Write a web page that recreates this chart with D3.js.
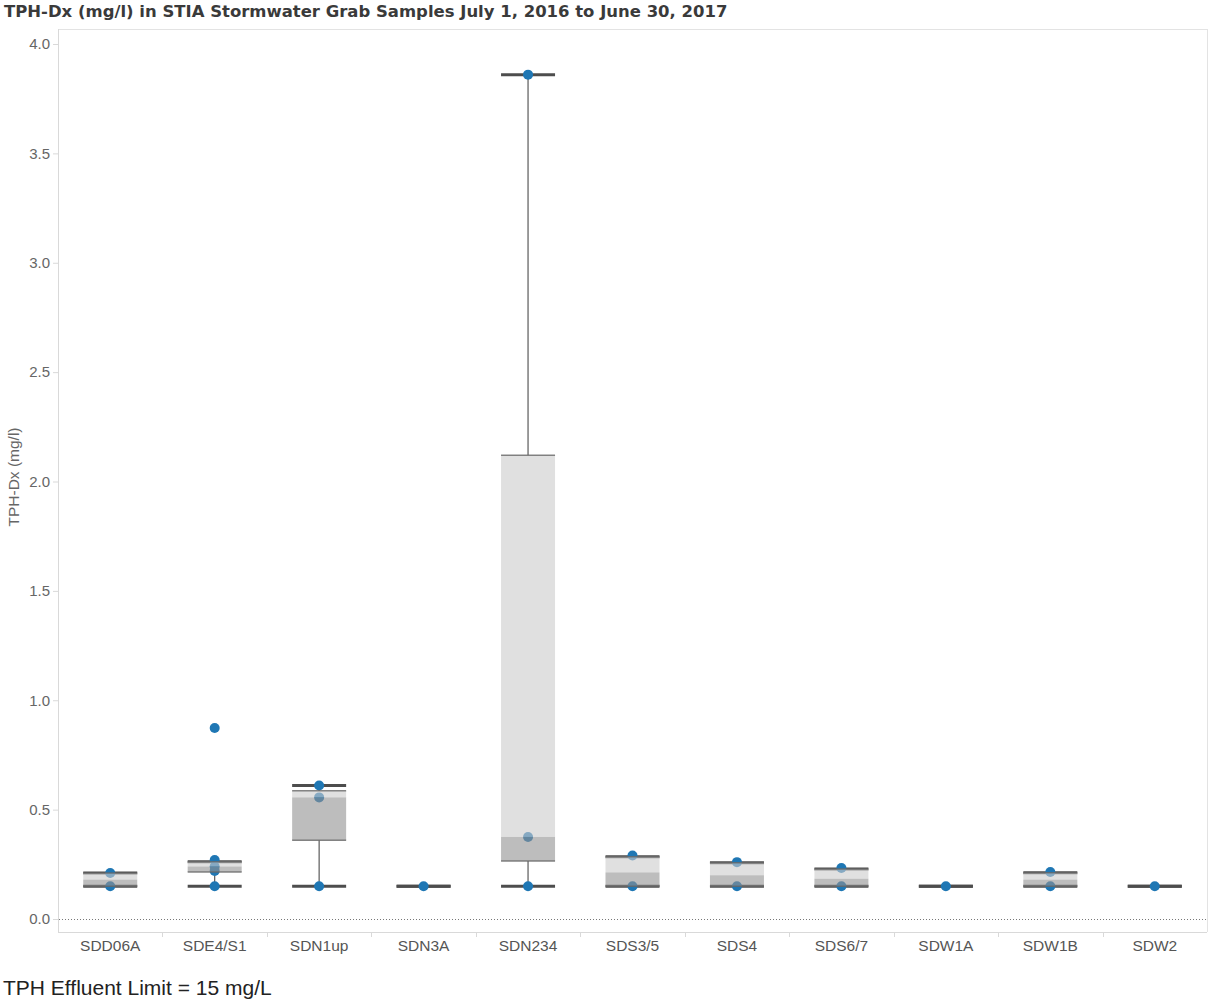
<!DOCTYPE html>
<html>
<head>
<meta charset="utf-8">
<script src="https://cdn.jsdelivr.net/npm/d3@7"></script>
<style>
  html, body { margin: 0; padding: 0; background: #fff; }
  svg { display: block; }
</style>
</head>
<body>
<svg id="chart" width="1208" height="999"></svg>
<script>
// ---- data ----
const sites      = ["SDD06A","SDE4/S1","SDN1up","SDN3A","SDN234","SDS3/5","SDS4","SDS6/7","SDW1A","SDW1B","SDW2"];
const whiskerLow = [0.15, 0.15, 0.15, 0.15, 0.15, 0.15, 0.15, 0.15, 0.15, 0.15, 0.15];
const q1         = [0.15, 0.215, 0.36, 0.15, 0.265, 0.15, 0.15, 0.15, 0.15, 0.15, 0.15];
const median     = [0.18, 0.24, 0.556, 0.15, 0.375, 0.213, 0.20, 0.184, 0.15, 0.18, 0.15];
const q3         = [0.21, 0.262, 0.586, 0.15, 2.12, 0.285, 0.257, 0.229, 0.15, 0.211, 0.15];
const whiskerHigh= [0.21, 0.262, 0.61, 0.15, 3.86, 0.285, 0.257, 0.229, 0.15, 0.211, 0.15];
const samples    = [
  [0.15, 0.21],
  [0.15, 0.22, 0.24, 0.27, 0.873],
  [0.15, 0.556, 0.61],
  [0.15],
  [0.15, 0.375, 3.86],
  [0.15, 0.29],
  [0.15, 0.26],
  [0.15, 0.233],
  [0.15],
  [0.15, 0.215],
  [0.15]
];
const yTicks = [0, 0.5, 1.0, 1.5, 2.0, 2.5, 3.0, 3.5, 4.0];
const titleText  = "TPH-Dx (mg/l) in STIA Stormwater Grab Samples July 1, 2016 to June 30, 2017";
const yTitle     = "TPH-Dx (mg/l)";
const footerText = "TPH Effluent Limit = 15 mg/L";

// ---- layout ----
const svg = d3.select("#chart");
const pLeft = 58, pRight = 1207, pTop = 29, pBottom = 932;

const y = d3.scaleLinear().domain([0, 4]).range([919, 44]);
const x = d3.scaleBand().domain(sites).range([pLeft, pRight]).padding(0);
const boxW = 54;

// title
const title = svg.append("text")
  .attr("x", 4).attr("y", 17)
  .attr("font-family", "'DejaVu Sans', sans-serif")
  .attr("font-weight", "bold")
  .attr("font-size", 14)
  .attr("fill", "#3a3a3a")
  .text(titleText);
const tw = title.node().getComputedTextLength();
title.attr("font-size", 14 * 724 / tw);

// frame
svg.append("line").attr("x1", pLeft).attr("x2", pRight).attr("y1", pTop + 0.5).attr("y2", pTop + 0.5)
  .attr("stroke", "#e3e3e3");
svg.append("line").attr("x1", pRight + 0.5).attr("x2", pRight + 0.5).attr("y1", pTop).attr("y2", pBottom)
  .attr("stroke", "#e3e3e3");

// y axis
const yAxis = d3.axisLeft(y).tickValues(yTicks).tickFormat(d3.format(".1f")).tickSize(5).tickPadding(3);
const gy = svg.append("g").attr("transform", `translate(${pLeft},0)`).call(yAxis);
gy.select(".domain").remove();
gy.append("line").attr("x1", 0.5).attr("x2", 0.5).attr("y1", pTop).attr("y2", pBottom).attr("stroke", "#d9d9d9");
gy.selectAll(".tick line").attr("stroke", "#d9d9d9");
gy.selectAll(".tick text").attr("font-family", "'Liberation Sans', Arial, sans-serif")
  .attr("font-size", 15).attr("fill", "#666");

// y title
svg.append("text")
  .attr("transform", `translate(19,477) rotate(-90)`)
  .attr("text-anchor", "middle")
  .attr("font-family", "'Liberation Sans', Arial, sans-serif")
  .attr("font-size", 15.5).attr("fill", "#666")
  .text(yTitle);

// x axis
const xAxis = d3.axisBottom(x).tickSize(0).tickPadding(8);
const gx = svg.append("g").attr("transform", `translate(0,${pBottom})`).call(xAxis);
gx.select(".domain").remove();
gx.append("line").attr("x1", pLeft).attr("x2", pRight).attr("y1", 0.5).attr("y2", 0.5).attr("stroke", "#d9d9d9");
gx.selectAll(".tick text").attr("font-family", "'Liberation Sans', Arial, sans-serif")
  .attr("font-size", 15.5).attr("fill", "#555");
gx.selectAll(".sep").data(sites.slice(1)).enter().append("line")
  .attr("x1", d => Math.round(x(d)) + 0.5).attr("x2", d => Math.round(x(d)) + 0.5)
  .attr("y1", 0).attr("y2", 5).attr("stroke", "#d9d9d9");

// zero reference line (dotted)
svg.append("line").attr("x1", pLeft + 1).attr("x2", pRight).attr("y1", Math.round(y(0)) + 0.5).attr("y2", Math.round(y(0)) + 0.5)
  .attr("stroke", "#777").attr("stroke-dasharray", "1,2");

// ---- boxes ----
const rows = sites.map((s, i) => ({
  site: s, lo: whiskerLow[i], q1: q1[i], med: median[i], q3: q3[i], hi: whiskerHigh[i], pts: samples[i]
}));
const g = svg.append("g");
const cx = d => x(d.site) + x.bandwidth() / 2;

g.selectAll(".wlo").data(rows.filter(d => d.q1 > d.lo)).enter().append("line")
  .attr("x1", cx).attr("x2", cx).attr("y1", d => y(d.lo)).attr("y2", d => y(d.q1))
  .attr("stroke", "#5a5a5a").attr("stroke-width", 1.2);
g.selectAll(".whi").data(rows.filter(d => d.hi > d.q3)).enter().append("line")
  .attr("x1", cx).attr("x2", cx).attr("y1", d => y(d.q3)).attr("y2", d => y(d.hi))
  .attr("stroke", "#5a5a5a").attr("stroke-width", 1.2);
["lo", "hi"].forEach(k => {
  g.selectAll(".cap" + k).data(rows).enter().append("line")
    .attr("x1", d => cx(d) - boxW / 2).attr("x2", d => cx(d) + boxW / 2)
    .attr("y1", d => y(d[k])).attr("y2", d => y(d[k]))
    .attr("stroke", "#4d4d4d").attr("stroke-width", 3);
});

rows.forEach(d => {
  g.selectAll(null).data(d.pts).enter().append("circle")
    .attr("cx", cx(d)).attr("cy", v => y(v)).attr("r", 5)
    .attr("fill", "#1f77b4");
});

g.selectAll(".upper").data(rows.filter(d => d.q3 > d.med)).enter().append("rect")
  .attr("x", d => cx(d) - boxW / 2).attr("width", boxW)
  .attr("y", d => y(d.q3)).attr("height", d => y(d.med) - y(d.q3))
  .attr("fill", "#cbcbcb").attr("fill-opacity", 0.6);
g.selectAll(".lower").data(rows.filter(d => d.med > d.q1)).enter().append("rect")
  .attr("x", d => cx(d) - boxW / 2).attr("width", boxW)
  .attr("y", d => y(d.med)).attr("height", d => y(d.q1) - y(d.med))
  .attr("fill", "#919191").attr("fill-opacity", 0.6);
["q1", "q3"].forEach(k => {
  g.selectAll(".h" + k).data(rows.filter(d => d.q3 > d.q1)).enter().append("line")
    .attr("x1", d => cx(d) - boxW / 2).attr("x2", d => cx(d) + boxW / 2)
    .attr("y1", d => y(d[k])).attr("y2", d => y(d[k]))
    .attr("stroke", "#666").attr("stroke-width", 1.5).attr("stroke-opacity", 0.8);
});

// footer
svg.append("text")
  .attr("x", 3).attr("y", 995)
  .attr("font-family", "'Liberation Sans', Arial, sans-serif")
  .attr("font-size", 21).attr("fill", "#222")
  .text(footerText);
</script>
</body>
</html>
